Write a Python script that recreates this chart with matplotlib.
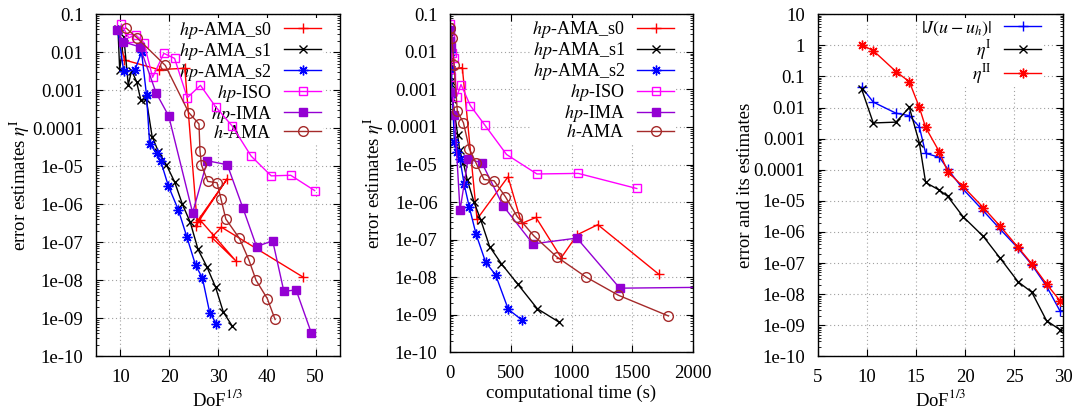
import numpy as np
import matplotlib
matplotlib.use("Agg")
import matplotlib.pyplot as plt
from matplotlib.ticker import LogLocator, FuncFormatter, NullFormatter

plt.rcParams['font.family'] = ['Liberation Serif', 'DejaVu Serif']
plt.rcParams['mathtext.fontset'] = 'stix'
plt.rcParams['font.size'] = 13

# ---- data ----
# hp-AMA_s0
s0_dof = [9.6, 10.8, 17.9, 23.2, 25.7, 31.9, 25.4, 26.3, 33.6, 28.7, 30.7, 47.5]
s0_eta = [0.039, 0.0063, 0.0035, 0.0038, 3.5e-7, 4.7e-6, 2.7e-7, 3.9e-7, 3.3e-8, 1.35e-7, 2.5e-7, 1.2e-8]
s0_time = [1, 3, 15, 101, 222, 477, 589, 707, 915, 1047, 1216, 1718]

# hp-AMA_s1
s1_dof = [9.5, 9.85, 10.7, 11.6, 12.3, 13.3, 14.2, 15.3, 16.5, 17.8, 19.4, 21.1, 22.7, 24.3, 25.9, 27.7, 29.5, 31.1, 32.9]
s1_eta = [0.04, 0.0034, 0.025, 0.0014, 0.0033, 0.0017, 0.00054, 0.00058, 6e-5, 2.4e-5, 1.1e-5, 3.9e-6,
          1e-6, 3.4e-7, 6.5e-8, 2.3e-8, 6.6e-9, 1.45e-9, 6.3e-10]
s1_time = [1, 2, 3, 5, 7, 10, 14, 20, 63, 79, 110, 142, 197, 252, 326, 422, 556, 718, 899]

# hp-AMA_s2 (also eta^I in the right panel)
s2_dof = [9.48, 10.66, 12.97, 14.33, 15.35, 15.99, 17.4, 18.25, 19.8, 21.86, 23.6, 25.4, 26.8, 28.3, 29.66]
s2_eta = [0.039, 0.0032, 0.0034, 0.0101, 0.00074, 3.9e-5, 2.2e-5, 1.38e-5, 3.1e-6, 7.2e-7, 1.4e-7,
          2.5e-8, 1.15e-8, 1.4e-9, 7.2e-10]
s2_time = [1, 2, 5, 9, 18, 36, 55, 82, 115, 159, 214, 293, 375, 479, 592]

# hp-ISO
iso_dof = [10.2, 11.7, 13.1, 14.8, 16.6, 18.9, 21.1, 23.7, 26.4, 29.5, 32.9, 36.8, 40.9, 44.9, 49.8]
iso_eta = [0.055, 0.024, 0.029, 0.018, 0.0022, 0.0094, 0.0069, 0.00064, 0.00135, 0.00037, 0.000115,
           1.85e-5, 5.6e-6, 5.8e-6, 2.3e-6]
iso_time = [1, 1.5, 2, 3, 4, 15, 30, 55, 90, 167, 284, 465, 715, 1055, 1537]

# hp-IMA
ima_dof = [9.4, 10.5, 14.0, 17.3, 19.9, 24.8, 27.8, 31.9, 35.1, 37.9, 41.2, 43.5, 46.0, 49.1]
ima_eta = [0.039, 0.019, 0.0138, 0.00086, 0.00021, 6e-7, 1.4e-5, 1.1e-5, 8e-7, 7.7e-8, 1.1e-7, 5.1e-9, 5.6e-9, 4.2e-10]
ima_time = [1, 3, 6, 10, 36, 82, 148, 263, 436, 682, 1044, 1397, 2600, 3600]

# h-AMA
hama_dof = [11.2, 13.4, 19.2, 24.0, 26.1, 26.3, 26.6, 27.9, 29.8, 30.6, 31.6, 34.4, 36.3, 37.8, 40.1, 41.7]
hama_eta = [0.043, 0.024, 0.0045, 0.00026, 0.00013, 2.6e-5, 1.1e-5, 4e-6, 3.7e-6, 1.4e-6, 4.1e-7,
            1.26e-7, 3.5e-8, 1e-8, 3.3e-9, 9.3e-10]
hama_time = [2, 14, 33, 60, 110, 159, 214, 279, 362, 455, 553, 690, 877, 1121, 1386, 1797]

# right panel: true error and eta^II
err_J = [0.045, 0.015, 0.0066, 0.0055, 0.0024, 0.00034, 0.00025, 0.000104, 2.4e-5, 4.8e-6, 1.2e-6,
         3e-7, 8.8e-8, 1.8e-8, 2.9e-9]
eta_II = [1.03, 0.68, 0.144, 0.068, 0.0102, 0.0023, 0.00037, 8.5e-5, 2.9e-5, 6.1e-6, 1.5e-6,
          3.2e-7, 9.4e-8, 2.1e-8, 6.2e-9]

names = [r'$hp$-AMA_s0', r'$hp$-AMA_s1', r'$hp$-AMA_s2', r'$hp$-ISO', r'$hp$-IMA', r'$h$-AMA']
dofs = [s0_dof, s1_dof, s2_dof, iso_dof, ima_dof, hama_dof]
etas = [s0_eta, s1_eta, s2_eta, iso_eta, ima_eta, hama_eta]
times = [s0_time, s1_time, s2_time, iso_time, ima_time, hama_time]

styles = [
    dict(color='#ff0000', marker='+', ms=7, mfc='none'),
    dict(color='#000000', marker='x', ms=6, mfc='none'),
    dict(color='#0000ff', marker=(8, 2, 0), ms=7, mfc='none'),
    dict(color='#ff00ff', marker='s', ms=6, mfc='none'),
    dict(color='#9400d3', marker='s', ms=6),
    dict(color='#a52a2a', marker='o', ms=7, mfc='none'),
]

gfmt = FuncFormatter(lambda v, p: '%g' % v)
TICK_FS = 13.5
LAB_FS = 13.5
LEG_FS = 13


def setup(ax, ymin, ymax):
    ax.set_yscale('log')
    ax.set_ylim(ymin, ymax)
    ax.yaxis.set_major_locator(LogLocator(base=10, numticks=30))
    ax.yaxis.set_minor_locator(LogLocator(base=10, subs=np.arange(2, 10), numticks=30))
    ax.yaxis.set_major_formatter(gfmt)
    ax.yaxis.set_minor_formatter(NullFormatter())
    ax.tick_params(which='both', direction='in', top=True, right=True, labelsize=TICK_FS)
    ax.tick_params(which='major', length=5, width=0.8, pad=9)
    ax.tick_params(which='minor', length=2.5, width=0.6)
    ax.set_axisbelow(True)
    ax.grid(True, which='major', color='#a0a0a0', linestyle=(0, (1, 2.5)), linewidth=0.8)
    for s in ax.spines.values():
        s.set_linewidth(1.0)


def legend(ax, anchor, spacing):
    leg = ax.legend(loc='upper right', bbox_to_anchor=anchor, frameon=True, fancybox=False,
                    edgecolor='none', facecolor='white', framealpha=1.0, markerfirst=False,
                    handlelength=2.05, handletextpad=0.7, labelspacing=spacing, borderpad=0.1,
                    borderaxespad=0, fontsize=LEG_FS)
    leg.set_zorder(1.5)
    return leg


fig = plt.figure(figsize=(10.79, 4.12), dpi=100)

# left: error estimate vs DoF^(1/3)
ax1 = fig.add_axes([0.0890, 0.1352, 0.2261, 0.8301])
for lab, x, y, st in zip(names, dofs, etas, styles):
    ax1.plot(x, y, lw=1.0, mew=1.0, label=lab, zorder=2, **st)
setup(ax1, 1e-10, 0.1)
ax1.set_xlim(5, 55)
ax1.set_xticks([10, 20, 30, 40, 50])
ax1.set_xlabel(r'DoF$^{1/3}$', fontsize=LAB_FS, labelpad=2)
ax1.set_ylabel(r'error estimates $\eta^{\rm I}$', fontsize=LAB_FS, labelpad=0)
legend(ax1, (0.93, 0.99), 0.0)

# middle: error estimate vs time
ax2 = fig.add_axes([0.4171, 0.1449, 0.2252, 0.8204])
for lab, x, y, st in zip(names, times, etas, styles):
    ax2.plot(x, y, lw=1.0, mew=1.0, label=lab, zorder=2, **st)
setup(ax2, 1e-10, 0.1)
ax2.set_xlim(0, 2000)
ax2.set_xticks([0, 500, 1000, 1500, 2000])
ax2.set_xlabel('computational time (s)', fontsize=LAB_FS, labelpad=2)
ax2.set_ylabel(r'error estimates $\eta^{\rm I}$', fontsize=LAB_FS, labelpad=0)
legend(ax2, (0.93, 0.99), 0.0)

# right: error and its estimates
ax3 = fig.add_axes([0.7578, 0.1352, 0.2276, 0.8301])
ax3.plot(s2_dof, err_J, color='#0000ff', marker='+', ms=7, mew=1.0, lw=1.0,
         label=r'$|J(u-u_h)|$', zorder=2)
ax3.plot(s2_dof, s2_eta, color='#000000', marker='x', ms=6, mew=1.0, lw=1.0,
         label=r'$\eta^{\rm I}$', zorder=2)
ax3.plot(s2_dof, eta_II, color='#ff0000', marker=(8, 2, 0), ms=7, mew=1.0, lw=1.0,
         label=r'$\eta^{\rm II}$', zorder=2)
setup(ax3, 1e-10, 10)
ax3.set_xlim(5, 30)
ax3.set_xticks([5, 10, 15, 20, 25, 30])
ax3.set_xlabel(r'DoF$^{1/3}$', fontsize=LAB_FS, labelpad=2)
ax3.set_ylabel('error and its estimates', fontsize=LAB_FS, labelpad=0)
legend(ax3, (0.918, 0.99), 0.0)

fig.savefig('out.png', dpi=100)
